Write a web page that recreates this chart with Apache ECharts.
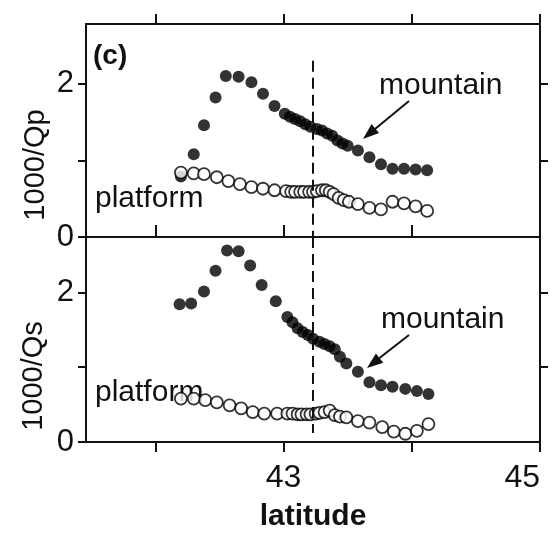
<!DOCTYPE html>
<html>
<head>
<meta charset="utf-8">
<script src="https://cdn.jsdelivr.net/npm/echarts@6/dist/echarts.min.js"></script>
<style>
html, body { margin: 0; padding: 0; background: #fff; }
#chart { width: 553px; height: 533px; }
</style>
</head>
<body>
<div id="chart"></div>
<script>
// top panel: 1000/Qp
const qpMountainLat = [42.20, 42.30, 42.38, 42.47, 42.55, 42.65, 42.75, 42.84, 42.93, 43.01, 43.05, 43.09, 43.13, 43.17, 43.21, 43.26, 43.30, 43.34, 43.38, 43.42, 43.46, 43.50, 43.58, 43.67, 43.76, 43.85, 43.94, 44.03, 44.12];
const qpMountain    = [0.79, 1.08, 1.46, 1.82, 2.10, 2.09, 2.02, 1.87, 1.71, 1.61, 1.57, 1.54, 1.51, 1.47, 1.44, 1.41, 1.39, 1.35, 1.32, 1.26, 1.22, 1.19, 1.13, 1.04, 0.95, 0.89, 0.89, 0.88, 0.87];
const qpPlatformLat = [42.20, 42.30, 42.38, 42.48, 42.57, 42.66, 42.75, 42.84, 42.93, 43.02, 43.06, 43.09, 43.13, 43.16, 43.20, 43.23, 43.26, 43.30, 43.33, 43.36, 43.39, 43.43, 43.47, 43.51, 43.58, 43.67, 43.76, 43.85, 43.94, 44.03, 44.12];
const qpPlatform    = [0.84, 0.83, 0.82, 0.78, 0.73, 0.69, 0.65, 0.63, 0.61, 0.60, 0.59, 0.59, 0.59, 0.59, 0.59, 0.59, 0.60, 0.61, 0.61, 0.59, 0.56, 0.51, 0.48, 0.46, 0.43, 0.38, 0.36, 0.46, 0.44, 0.40, 0.34];

// bottom panel: 1000/Qs
const qsMountainLat = [42.19, 42.28, 42.38, 42.47, 42.56, 42.65, 42.74, 42.83, 42.94, 43.03, 43.07, 43.11, 43.15, 43.19, 43.23, 43.28, 43.32, 43.36, 43.40, 43.44, 43.49, 43.58, 43.67, 43.76, 43.85, 43.95, 44.04, 44.13];
const qsMountain    = [1.84, 1.85, 2.01, 2.29, 2.56, 2.55, 2.36, 2.10, 1.88, 1.67, 1.60, 1.52, 1.47, 1.43, 1.38, 1.34, 1.31, 1.28, 1.24, 1.14, 1.05, 0.94, 0.80, 0.76, 0.74, 0.71, 0.68, 0.64];
const qsPlatformLat = [42.20, 42.30, 42.39, 42.48, 42.58, 42.67, 42.76, 42.85, 42.95, 43.03, 43.07, 43.11, 43.14, 43.18, 43.21, 43.25, 43.28, 43.32, 43.36, 43.40, 43.44, 43.49, 43.58, 43.67, 43.77, 43.86, 43.95, 44.04, 44.13];
const qsPlatform    = [0.58, 0.58, 0.56, 0.53, 0.49, 0.45, 0.40, 0.38, 0.38, 0.38, 0.38, 0.37, 0.37, 0.37, 0.37, 0.38, 0.39, 0.40, 0.42, 0.36, 0.34, 0.33, 0.28, 0.26, 0.20, 0.14, 0.11, 0.15, 0.24];

const latTicks = [42, 43, 44, 45];
const latLabels = [43, 45];
const qTicks = [0, 1, 2];
const qLabels = [0, 2];
const divideLat = 43.23;

const font = 'Liberation Sans, Arial, sans-serif';
const ink = '#111';

function pairs(lat, val) {
  return lat.map((x, i) => [x, val[i]]);
}

function latAxis(grid, position, tickInside, showLabels) {
  return {
    type: 'value', gridIndex: grid, position: position,
    min: 41.46, max: 45,
    axisLine: { show: true, onZero: false, lineStyle: { color: ink, width: 2 } },
    axisTick: { show: true, inside: tickInside, length: tickInside ? 12 : 10, customValues: latTicks, lineStyle: { color: ink, width: 2 } },
    axisLabel: showLabels
      ? { show: true, customValues: latLabels, margin: 20, fontSize: 32, color: ink, fontFamily: font, alignMaxLabel: 'right' }
      : { show: false },
    splitLine: { show: false }
  };
}

function qAxis(grid, position, max) {
  const left = position === 'left';
  return {
    type: 'value', gridIndex: grid, position: position,
    min: 0, max: max,
    axisLine: { show: true, onZero: false, lineStyle: { color: ink, width: 2 } },
    axisTick: { show: true, length: 8, customValues: left ? qTicks : [1, 2], lineStyle: { color: ink, width: 2 } },
    axisLabel: left
      ? { show: true, customValues: qLabels, margin: 12, fontSize: 31, color: ink, fontFamily: font }
      : { show: false },
    splitLine: { show: false }
  };
}

const filled = { color: '#000' };
const open = { color: '#fff', borderColor: '#000', borderWidth: 1.8 };
const dashed = { color: ink, width: 2, type: [11, 6] };

const chart = echarts.init(document.getElementById('chart'));
chart.setOption({
  animation: false,
  backgroundColor: '#fff',
  grid: [
    { left: 86, top: 24, width: 454, height: 213 },
    { left: 86, top: 237, width: 454, height: 212 }
  ],
  xAxis: [
    latAxis(0, 'bottom', true, false),
    latAxis(0, 'top', false, false),
    Object.assign(latAxis(1, 'bottom', false, true), {
      name: 'latitude', nameLocation: 'middle', nameGap: 60,
      nameTextStyle: { fontSize: 30, fontWeight: 'bold', color: ink, fontFamily: font }
    })
  ],
  yAxis: [
    qAxis(0, 'left', 2.78),
    qAxis(0, 'right', 2.78),
    qAxis(1, 'left', 2.74),
    qAxis(1, 'right', 2.74)
  ],
  series: [
    {
      name: 'Qp mountain', type: 'scatter', xAxisIndex: 0, yAxisIndex: 0,
      data: pairs(qpMountainLat, qpMountain), symbolSize: 12, itemStyle: filled,
      markLine: {
        silent: true, symbol: 'none', label: { show: false }, lineStyle: dashed,
        data: [[{ coord: [divideLat, 2.3] }, { coord: [divideLat, 0] }]]
      }
    },
    {
      name: 'Qp platform', type: 'scatter', xAxisIndex: 0, yAxisIndex: 0,
      data: pairs(qpPlatformLat, qpPlatform), symbolSize: 12, itemStyle: open
    },
    {
      name: 'Qs mountain', type: 'scatter', xAxisIndex: 2, yAxisIndex: 2,
      data: pairs(qsMountainLat, qsMountain), symbolSize: 12, itemStyle: filled,
      markLine: {
        silent: true, symbol: 'none', label: { show: false }, lineStyle: dashed,
        data: [[{ coord: [divideLat, 2.74] }, { coord: [divideLat, 0.12] }]]
      }
    },
    {
      name: 'Qs platform', type: 'scatter', xAxisIndex: 2, yAxisIndex: 2,
      data: pairs(qsPlatformLat, qsPlatform), symbolSize: 12, itemStyle: open
    }
  ],
  graphic: [
    { type: 'text', left: 93, top: 42, style: { text: '(c)', font: 'bold 28px ' + font, fill: ink } },
    { type: 'text', x: 36, y: 165, rotation: Math.PI / 2, style: { text: '1000/Qp', font: '29px ' + font, fill: ink, align: 'center', verticalAlign: 'middle' } },
    { type: 'text', x: 34, y: 376, rotation: Math.PI / 2, style: { text: '1000/Qs', font: '29px ' + font, fill: ink, align: 'center', verticalAlign: 'middle' } },
    { type: 'text', x: 379, y: 86, style: { text: 'mountain', font: '30px ' + font, fill: ink, verticalAlign: 'middle' } },
    { type: 'text', x: 95, y: 199, style: { text: 'platform', font: '30px ' + font, fill: ink, verticalAlign: 'middle' } },
    { type: 'text', x: 381, y: 320, style: { text: 'mountain', font: '30px ' + font, fill: ink, verticalAlign: 'middle' } },
    { type: 'text', x: 95, y: 393, style: { text: 'platform', font: '30px ' + font, fill: ink, verticalAlign: 'middle' } },
    { type: 'line', shape: { x1: 409, y1: 101, x2: 375, y2: 129 }, style: { stroke: ink, lineWidth: 2 } },
    { type: 'polygon', shape: { points: [[363, 139], [379, 133], [371.5, 124]] }, style: { fill: ink } },
    { type: 'line', shape: { x1: 409, y1: 335, x2: 379.5, y2: 358 }, style: { stroke: ink, lineWidth: 2 } },
    { type: 'polygon', shape: { points: [[367, 368], [383.3, 362.8], [375.9, 353.4]] }, style: { fill: ink } }
  ]
});
</script>
</body>
</html>
